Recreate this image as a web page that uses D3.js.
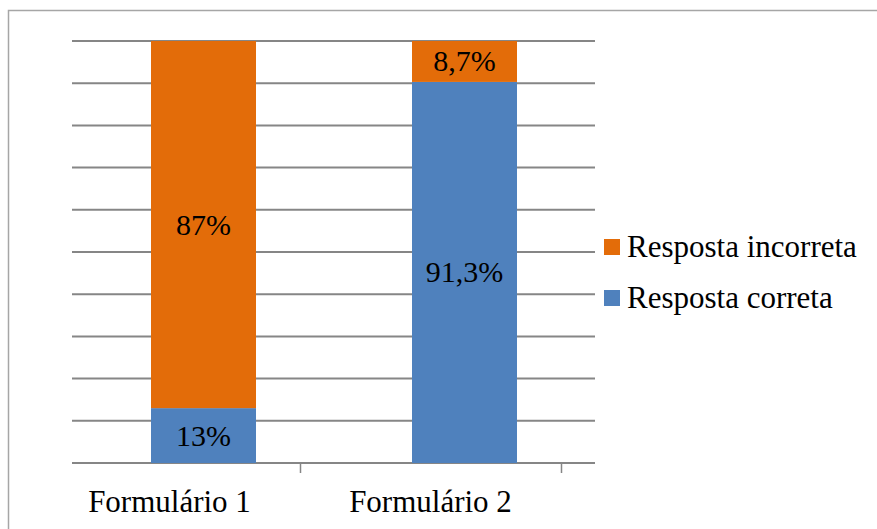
<!DOCTYPE html>
<html>
<head>
<meta charset="utf-8">
<script src="https://cdn.jsdelivr.net/npm/d3@7"></script>
<style>
  html, body { margin: 0; padding: 0; background: #fff; }
  svg { display: block; }
</style>
</head>
<body>
<svg id="chart" width="877" height="529"></svg>
<script>
const categories = ["Formulário 1", "Formulário 2"];
const seriesNames = ["Resposta correta", "Resposta incorreta"];
// bar heights
const correta = [13, 90.3];
const incorreta = [87, 9.7];
// data labels as printed
const labelsCorreta = ["13%", "91,3%"];
const labelsIncorreta = ["87%", "8,7%"];
const yTicks = [0, 10, 20, 30, 40, 50, 60, 70, 80, 90, 100];
const colors = ["#4F81BD", "#E36C09"];

const FONT = "'Liberation Serif', 'Times New Roman', Times, 'DejaVu Serif', serif";

const svg = d3.select("#chart")
  .attr("font-family", FONT);

// outer border
svg.append("rect")
  .attr("x", 8.5).attr("y", 10.5)
  .attr("width", 900).attr("height", 540)
  .attr("fill", "none").attr("stroke", "#a6a6a6").attr("stroke-width", 1.5);

const plotLeft = 72, plotRight = 595, plotTop = 41, plotBottom = 463;
const y = d3.scaleLinear().domain([0, 100]).range([plotBottom, plotTop]);

// axis band (category label positions)
const xAxis = d3.scaleBand().domain(categories).range([39, 561]);
const barOffset = 34;
const barWidth = 105;

// gridlines
svg.append("g").selectAll("line").data(yTicks).join("line")
  .attr("x1", plotLeft).attr("x2", plotRight)
  .attr("y1", d => y(d)).attr("y2", d => y(d))
  .attr("stroke", "#868686").attr("stroke-width", 2);

// category tick marks
svg.append("g").selectAll("line").data(categories).join("line")
  .attr("x1", d => xAxis(d) + xAxis.bandwidth() + 0.5)
  .attr("x2", d => xAxis(d) + xAxis.bandwidth() + 0.5)
  .attr("y1", plotBottom).attr("y2", plotBottom + 10)
  .attr("stroke", "#868686").attr("stroke-width", 1.5);

const barX = c => xAxis(c) + xAxis.bandwidth() / 2 + barOffset - barWidth / 2;

const stacked = categories.map((c, i) => ({
  cat: c,
  segs: [
    { s: 0, y0: 0, y1: correta[i], label: labelsCorreta[i] },
    { s: 1, y0: correta[i], y1: correta[i] + incorreta[i], label: labelsIncorreta[i] }
  ]
}));

const g = svg.append("g");
stacked.forEach(d => {
  d.segs.forEach(seg => {
    g.append("rect")
      .attr("x", barX(d.cat))
      .attr("width", barWidth)
      .attr("y", y(seg.y1))
      .attr("height", y(seg.y0) - y(seg.y1))
      .attr("fill", colors[seg.s]);
    g.append("text")
      .attr("x", barX(d.cat) + barWidth / 2)
      .attr("y", (y(seg.y0) + y(seg.y1)) / 2 + 10)
      .attr("text-anchor", "middle")
      .attr("font-family", FONT)
      .attr("font-size", 30)
      .attr("fill", "#000")
      .text(seg.label);
  });
});

// category labels
svg.append("g").selectAll("text").data(categories).join("text")
  .attr("x", d => xAxis(d) + xAxis.bandwidth() / 2)
  .attr("y", 512)
  .attr("text-anchor", "middle")
  .attr("font-family", FONT)
  .attr("font-size", 31)
  .attr("fill", "#000")
  .text(d => d);

// legend (incorreta on top)
const legendItems = [
  { name: seriesNames[1], color: colors[1] },
  { name: seriesNames[0], color: colors[0] }
];
const lg = svg.append("g");
legendItems.forEach((item, i) => {
  const yy = 239 + i * 51;
  lg.append("rect").attr("x", 604).attr("y", yy).attr("width", 16).attr("height", 16).attr("fill", item.color);
  lg.append("text").attr("x", 627).attr("y", yy + 18)
    .attr("font-family", FONT)
    .attr("font-size", 31).attr("fill", "#000").text(item.name);
});
</script>
</body>
</html>
